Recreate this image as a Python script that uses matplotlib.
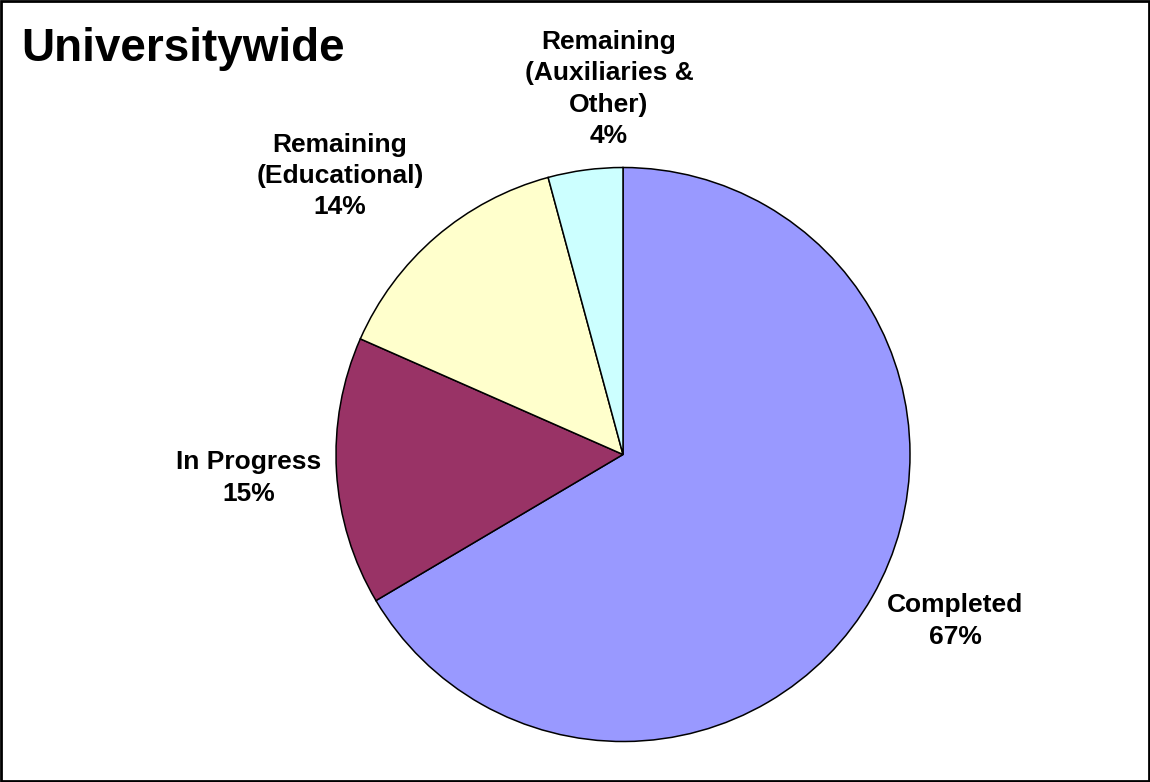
import matplotlib
matplotlib.use("Agg")
import matplotlib.pyplot as plt
from matplotlib.patches import Rectangle

plt.rcParams['font.family'] = ['Liberation Sans', 'DejaVu Sans']

title = "Universitywide"
categories = ["Completed", "In Progress", "Remaining\n(Educational)", "Remaining\n(Auxiliaries &\nOther)"]
values = [66.5, 15.1, 14.2, 4.2]
colors = ["#9999FF", "#993366", "#FFFFCC", "#CCFFFF"]

W, H = 1150, 782
fig = plt.figure(figsize=(W / 100, H / 100), dpi=100)
fig.patch.set_facecolor("white")

# pie axes: centre (623, 454.5) px, radius 287 px
cx, cy, r = 623, 454.5, 287
ax = fig.add_axes([(cx - r) / W, (H - cy - r) / H, 2 * r / W, 2 * r / H])
ax.pie(values, colors=colors, startangle=90, counterclock=False,
       wedgeprops=dict(edgecolor="black", linewidth=1.1), radius=1.0)
ax.set_xlim(-1, 1)
ax.set_ylim(-1, 1)
ax.set_aspect("equal")
ax.axis("off")

# label centres in pixels
label_pos = [(955, 621), (249, 478), (340, 176), (609, 89)]
for cat, val, (px, py) in zip(categories, values, label_pos):
    fig.text(px / W, 1 - py / H, f"{cat}\n{int(val + 0.5)}%", ha="center", va="center",
             fontsize=19, fontweight="bold", linespacing=1.38)

fig.text(21 / W, 1 - 49 / H, title, ha="left", va="center", fontsize=33, fontweight="bold")

fig.add_artist(Rectangle((0.0009, 0.0013), 0.9982, 0.9974, transform=fig.transFigure,
                         fill=False, edgecolor="black", linewidth=2))

fig.savefig("out.png", dpi=100)
